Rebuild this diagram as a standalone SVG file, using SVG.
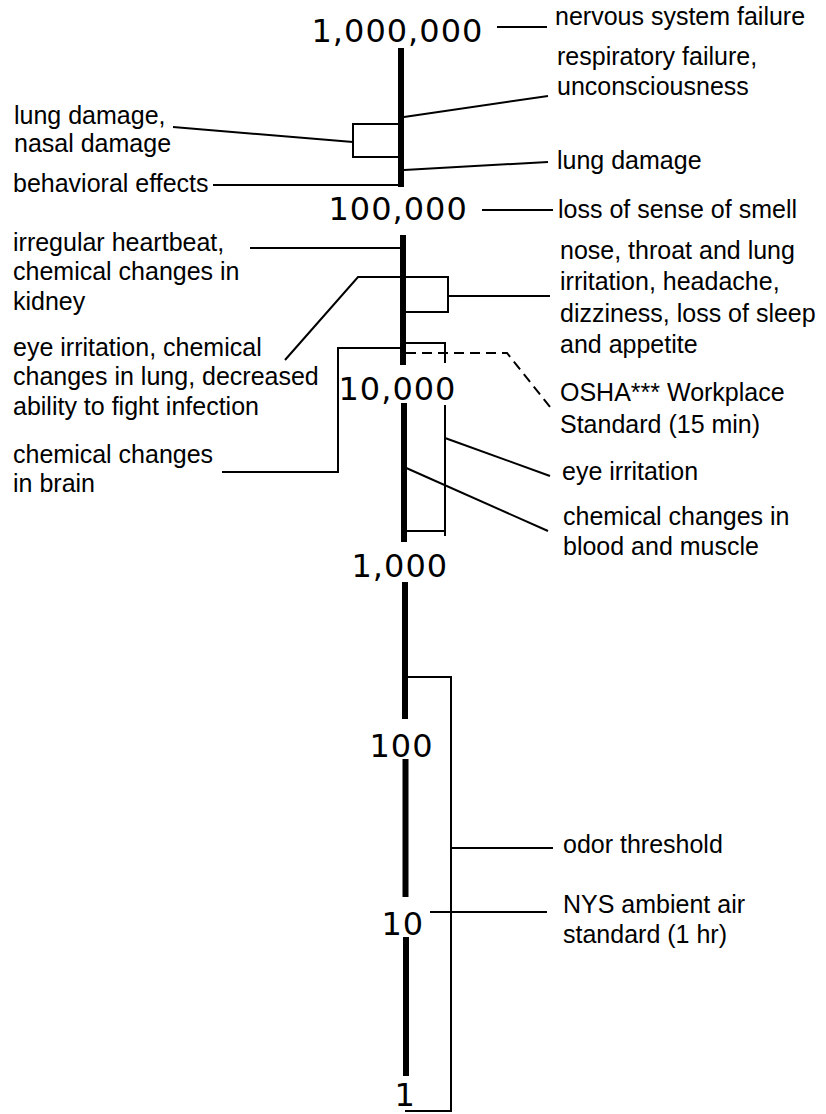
<svg xmlns="http://www.w3.org/2000/svg" width="826" height="1114" viewBox="0 0 826 1114">
<style>
.lbl{font-family:"Liberation Sans",Arial,sans-serif;font-size:25px;fill:#000}
.num{font-family:"DejaVu Sans","Liberation Sans",sans-serif;font-size:32px;letter-spacing:1px;fill:#000}
.ax{stroke:#000;stroke-width:6;fill:none}
.ln{stroke:#000;stroke-width:2;fill:none}
.dash{stroke:#000;stroke-width:2;fill:none;stroke-dasharray:10 6}
</style>
<rect width="826" height="1114" fill="#fff"/>
<g id="axis">
<line class="ax" x1="401" y1="48" x2="401" y2="187"/>
<line class="ax" x1="403" y1="235" x2="403" y2="365"/>
<line class="ax" x1="404" y1="403" x2="404" y2="542"/>
<line class="ax" x1="405" y1="582" x2="405" y2="719"/>
<line class="ax" x1="405.5" y1="759" x2="405.5" y2="897"/>
<line class="ax" x1="406" y1="937" x2="406" y2="1076"/>
</g>
<g id="scale">
<text class="num" x="311.5" y="42">1,000,000</text>
<text class="num" x="328.5" y="220">100,000</text>
<text class="num" x="338.5" y="400">10,000</text>
<text class="num" x="351.5" y="577">1,000</text>
<text class="num" x="369.5" y="757">100</text>
<text class="num" x="381.5" y="935">10</text>
<text class="num" x="394.5" y="1106">1</text>
</g>
<g id="connectors">
<line class="ln" x1="497" y1="27" x2="547" y2="27"/>
<line class="ln" x1="404" y1="117" x2="548" y2="96"/>
<line class="ln" x1="404" y1="170" x2="548" y2="162"/>
<line class="ln" x1="482" y1="210" x2="553" y2="210"/>
<polyline class="ln" points="401,124 353,124 353,157 401,157"/>
<line class="ln" x1="173" y1="127" x2="353" y2="142"/>
<line class="ln" x1="213" y1="185" x2="401" y2="185"/>
<line class="ln" x1="250" y1="248" x2="403" y2="248"/>
<polyline class="ln" points="285,360 358,277 448,277 448,312 403,312"/>
<line class="ln" x1="448" y1="296" x2="550" y2="296"/>
<polyline class="ln" points="403,348 338,348 338,472 222,472"/>
<polyline class="ln" points="403,343 445,343 445,363"/>
<polyline class="ln" points="445,405 445,536"/>
<line class="ln" x1="404" y1="531" x2="445" y2="531"/>
<polyline class="dash" points="406,353 507,353 550,407"/>
<line class="ln" x1="445" y1="438" x2="550" y2="476"/>
<line class="ln" x1="404" y1="467" x2="548" y2="531"/>
<polyline class="ln" points="405,677 451,677 451,1111 405,1111"/>
<line class="ln" x1="451" y1="848" x2="553" y2="848"/>
<line class="ln" x1="430" y1="912" x2="547" y2="912"/>
</g>
<g id="n-nervous"><text class="lbl" x="555" y="25">nervous system failure</text></g>
<g id="n-respiratory"><text class="lbl" x="557" y="65">respiratory failure,</text><text class="lbl" x="557" y="95">unconsciousness</text></g>
<g id="n-lung-right"><text class="lbl" x="557" y="169">lung damage</text></g>
<g id="n-smell"><text class="lbl" x="558" y="218">loss of sense of smell</text></g>
<g id="n-lung-nasal"><text class="lbl" x="14" y="124">lung damage,</text><text class="lbl" x="14" y="152">nasal damage</text></g>
<g id="n-behavioral"><text class="lbl" x="13" y="192">behavioral effects</text></g>
<g id="n-heartbeat"><text class="lbl" x="13" y="251">irregular heartbeat,</text><text class="lbl" x="13" y="280">chemical changes in</text><text class="lbl" x="13" y="310">kidney</text></g>
<g id="n-eye-lung"><text class="lbl" x="13" y="356">eye irritation, chemical</text><text class="lbl" x="13" y="385">changes in lung, decreased</text><text class="lbl" x="13" y="415">ability to fight infection</text></g>
<g id="n-brain"><text class="lbl" x="13" y="463">chemical changes</text><text class="lbl" x="13" y="492">in brain</text></g>
<g id="n-nose"><text class="lbl" x="560" y="259">nose, throat and lung</text><text class="lbl" x="560" y="290">irritation, headache,</text><text class="lbl" x="560" y="322">dizziness, loss of sleep</text><text class="lbl" x="560" y="353">and appetite</text></g>
<g id="n-osha"><text class="lbl" x="560" y="401">OSHA*** Workplace</text><text class="lbl" x="560" y="433">Standard (15 min)</text></g>
<g id="n-eye"><text class="lbl" x="562" y="480">eye irritation</text></g>
<g id="n-blood"><text class="lbl" x="563" y="525">chemical changes in</text><text class="lbl" x="563" y="555">blood and muscle</text></g>
<g id="n-odor"><text class="lbl" x="563" y="853">odor threshold</text></g>
<g id="n-nys"><text class="lbl" x="563" y="913">NYS ambient air</text><text class="lbl" x="563" y="943">standard (1 hr)</text></g>
</svg>
